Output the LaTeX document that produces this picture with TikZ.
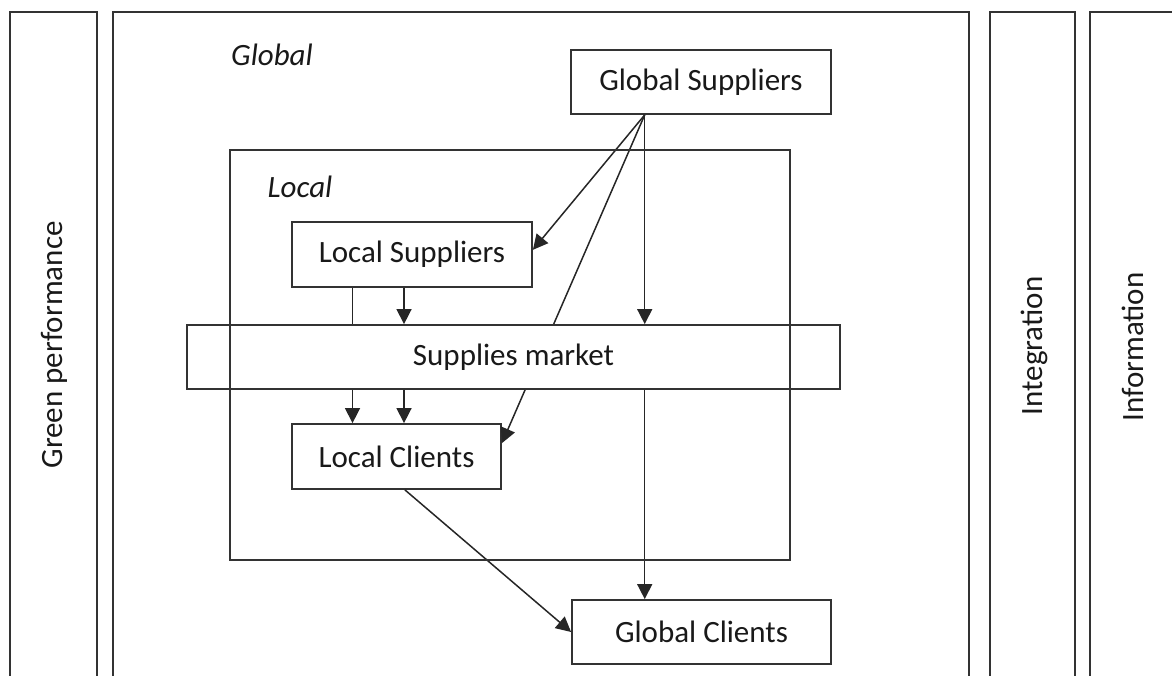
\documentclass[tikz,border=0pt]{standalone}
\usepackage{fontspec}
\setmainfont{Carlito}
\usetikzlibrary{arrows.meta,calc}
\begin{document}
\begin{tikzpicture}[x=1pt,y=-1pt,
  frame/.style={draw=black!80, line width=1.8pt},
  txt/.style={font=\fontsize{31}{37}\selectfont, text=black!90, inner sep=0pt},
  box/.style={frame, fill=white, txt, anchor=center},
  conn/.style={draw=black!85, line width=1.5pt},
  arr/.style={conn, -{Triangle[length=15pt,width=15pt]}}]
\useasboundingbox (0,0) rectangle (1172,676);
\clip (0,0) rectangle (1172,676);
% outer columns
\draw[frame] (10,690) -- (10,12) -- (97,12) -- (97,690);
\draw[frame] (113,690) -- (113,12) -- (969,12) -- (969,690);
\draw[frame] (990,690) -- (990,12) -- (1075,12) -- (1075,690);
\draw[frame] (1090,690) -- (1090,12) -- (1190,12);
\node[txt, rotate=90] (green) at (54,345) {Green performance};
\node[txt, rotate=90] (integ) at (1034,346) {Integration};
\node[txt, rotate=90] (info) at (1133,347) {Information};
\node[txt] (globallbl) at (272,55) {\itshape Global};
\node[txt] (locallbl) at (300,187) {\itshape Local};
% nodes
\node[box, minimum width=260pt, minimum height=64pt] (GS) at (701,82) {Global Suppliers};
\node[box, minimum width=240pt, minimum height=65pt] (LS) at (412,254.5) {Local Suppliers};
\node[box, minimum width=209pt, minimum height=65pt] (LC) at (396.5,456.5) {Local Clients};
\node[box, minimum width=259pt, minimum height=64pt] (GC) at (701.5,632) {Global Clients};
\coordinate (gs) at ($(GS.south west)!0.285!(GS.south east)$);
\coordinate (la) at ($(LS.south west)!0.254!(LS.south east)$);
\coordinate (lb) at ($(LS.south west)!0.467!(LS.south east)$);
\coordinate (lse) at ($(LS.north east)!0.43!(LS.south east)$);
\coordinate (lce) at ($(LC.north east)!0.3!(LC.south east)$);
\coordinate (lcs) at ($(LC.south west)!0.54!(LC.south east)$);
% connectors (market box drawn over them)
\draw[arr] (gs) -- (lse);
\draw[arr] (gs) -- (lce);
\node[box, minimum width=653pt, minimum height=64pt] (MK) at (513.5,357) {Supplies market};
\draw[conn] (la) -- (la |- MK.north);
\draw[arr] (lb) -- (lb |- MK.north);
\draw[arr] (la |- MK.south) -- (la |- LC.north);
\draw[arr] (lb |- MK.south) -- (lb |- LC.north);
\draw[arr] (gs) -- (gs |- MK.north);
\draw[arr] (gs |- MK.south) -- (gs |- GC.north);
\draw[arr] (lcs) -- (GC.west);
% local frame
\draw[frame] (230,150) rectangle (790,560);
\end{tikzpicture}
\end{document}
